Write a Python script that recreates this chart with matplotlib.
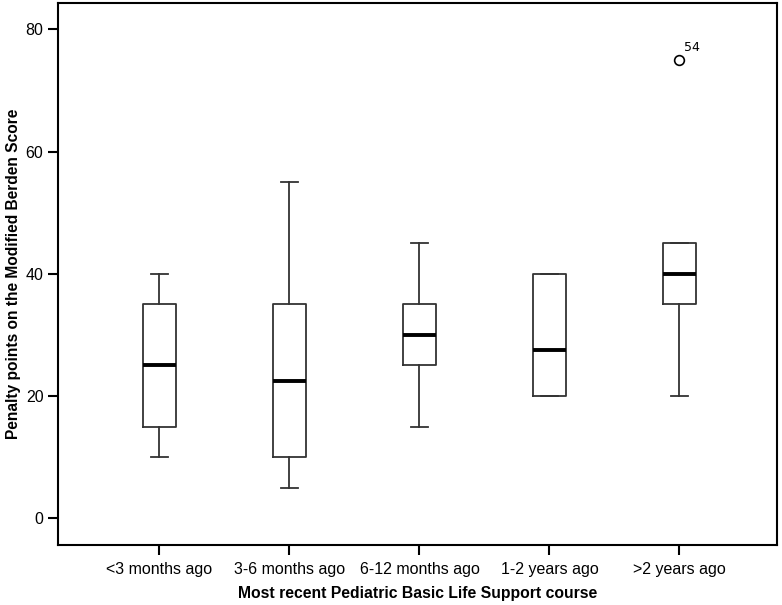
import matplotlib
matplotlib.use("Agg")
import matplotlib.pyplot as plt

# Box statistics.
categories = ["<3 months ago", "3-6 months ago", "6-12 months ago", "1-2 years ago", ">2 years ago"]
whislo = [10, 5, 15, 20, 20]
q1 = [15, 10, 25, 20, 35]
med = [25, 22.5, 30, 27.5, 40]
q3 = [35, 35, 35, 40, 45]
whishi = [40, 55, 45, 40, 45]
fliers = [[], [], [], [], [75]]
flier_ids = [[], [], [], [], ["54"]]

plt.rcParams["font.family"] = ["Liberation Sans", "DejaVu Sans"]

fig = plt.figure(figsize=(7.82, 6.05), dpi=100)
ax = fig.add_axes([58 / 782, 1 - 545 / 605, (777 - 58) / 782, (545 - 3) / 605])

stats = []
for i in range(len(categories)):
	stats.append({"whislo": whislo[i], "q1": q1[i], "med": med[i], "q3": q3[i],
		"whishi": whishi[i], "fliers": fliers[i], "label": categories[i]})

line_col = "#333333"
ax.bxp(stats, positions=range(len(categories)), widths=0.25,
	boxprops=dict(color=line_col, linewidth=1.3),
	whiskerprops=dict(color=line_col, linewidth=1.3),
	capprops=dict(color=line_col, linewidth=1.3),
	capwidths=0.125,
	medianprops=dict(color="black", linewidth=2.8),
	flierprops=dict(marker="o", markerfacecolor="none", markeredgecolor="black",
		markersize=7, markeredgewidth=1.2))

# label outliers with case numbers
for i in range(len(categories)):
	for v, lab in zip(fliers[i], flier_ids[i]):
		ax.annotate(lab, (i, v), xytext=(3.5, 4), textcoords="offset points",
			fontsize=9, family="DejaVu Sans", ha="left", va="bottom")

ax.set_xlim(-0.78, 4.75)
ax.set_ylim(-4.37, 84.3)
ax.set_yticks([0, 20, 40, 60, 80])
ax.set_xticks(range(len(categories)))
ax.set_xticklabels(categories)
ax.tick_params(direction="out", length=7, width=1.5, labelsize=11.5, color="black")
ax.tick_params(axis="x", pad=5)
for s in ax.spines.values():
	s.set_linewidth(1.5)
	s.set_color("black")

ax.set_xlabel("Most recent Pediatric Basic Life Support course", fontsize=11.3,
	fontweight="bold", labelpad=7)
ax.set_ylabel("Penalty points on the Modified Berden Score", fontsize=11.2,
	fontweight="bold", labelpad=3.5)

fig.savefig("out.png", dpi=100)
